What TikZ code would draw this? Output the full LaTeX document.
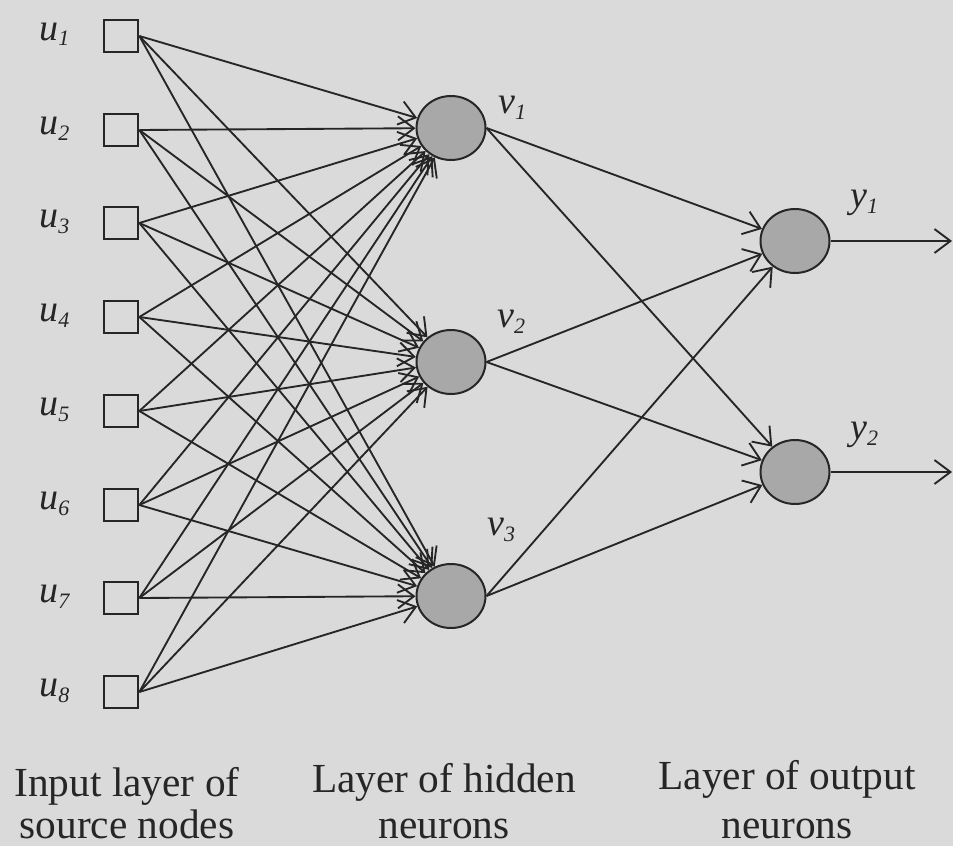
\documentclass[tikz,border=0pt]{standalone}
\usepackage{fontspec}
\setmainfont{Liberation Serif}
\usetikzlibrary{arrows.meta,shapes.geometric}
\definecolor{paper}{HTML}{DADADA}
\definecolor{ink}{HTML}{262626}
\definecolor{cell}{HTML}{A8A8A8}
% italic variable name with a lowered index
\newcommand{\varlbl}[2]{\fontsize{28.5}{30}\selectfont\itshape #1\raisebox{-4.5pt}{\fontsize{16.5}{18}\selectfont #2}}

\begin{document}
\begin{tikzpicture}[x=0.75pt,y=-0.75pt,
  srcbox/.style={draw=ink,line width=1.5pt,minimum width=26pt,minimum height=23.5pt,inner sep=0pt},
  neuron/.style={ellipse,draw=ink,fill=cell,line width=1.5pt,minimum width=51.75pt,minimum height=48pt,inner sep=0pt},
  link/.style={draw=ink,line width=1.4pt,-{Straight Barb[length=12pt,width=18pt,line width=1.4pt]}},
  varname/.style={anchor=base west,inner sep=0pt,text=ink},
  caption/.style={anchor=base,text=ink,font=\fontsize{31}{40}\selectfont,inner sep=0pt}]
\fill[paper] (0,0) rectangle (953,846);
\useasboundingbox (0,0) rectangle (953,846);

% input layer
\foreach \i/\y in {1/36,2/130,3/223,4/317,5/411,6/505,7/598,8/692}{
  \node[srcbox] (u\i) at (121,\y) {};
  \node[varname] (lu\i) at (39,\y+4) {\varlbl{u}{\i}};
}

% hidden layer
\node[neuron] (v1) at (451,128) {};
\node[neuron] (v2) at (451,362) {};
\node[neuron] (v3) at (451,596) {};
\node[varname] (lv1) at (498,113) {\varlbl{v}{1}};
\node[varname] (lv2) at (497,327) {\varlbl{v}{2}};
\node[varname] (lv3) at (487,535) {\varlbl{v}{3}};

% output layer
\node[neuron] (y1) at (795,241) {};
\node[neuron] (y2) at (795,472) {};
\node[varname] (ly1) at (850,207) {\varlbl{y}{1}};
\node[varname] (ly2) at (850,439) {\varlbl{y}{2}};
\coordinate (o1) at (952,241);
\coordinate (o2) at (952,472);

% connections
\foreach \i in {1,...,8}{
  \foreach \j in {1,2,3}{
    \draw[link] (u\i.east) -- (v\j);
  }
}
\foreach \j in {1,2,3}{
  \foreach \k in {1,2}{
    \draw[link] (v\j.east) -- (y\k);
  }
}
\draw[link] (y1.east) -- (o1);
\draw[link] (y2.east) -- (o2);

% layer captions
\node[caption] (c1a) at (127,796) {Input layer of};
\node[caption] (c1b) at (127,838) {source nodes};
\node[caption] (c2a) at (444,792) {Layer of hidden};
\node[caption] (c2b) at (444,838) {neurons};
\node[caption] (c3a) at (787,789) {Layer of output};
\node[caption] (c3b) at (787,838) {neurons};
\end{tikzpicture}
\end{document}
